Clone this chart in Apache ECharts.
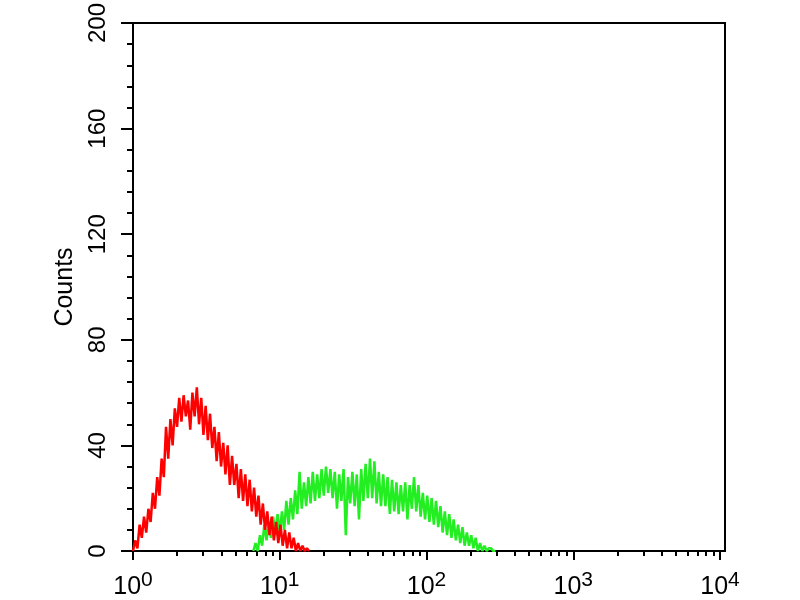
<!DOCTYPE html>
<html><head><meta charset="utf-8">
<script src="https://cdn.jsdelivr.net/npm/echarts@6/dist/echarts.min.js"></script>
<style>html,body{margin:0;padding:0;background:#fff}#c{width:800px;height:600px}</style>
</head><body><div id="c"></div>
<script>
// Y axis ticks (counts)
const yTickValues = [0, 40, 80, 120, 160, 200];
// X axis: decades (log10 of fluorescence intensity), labels 10^n
const xDecades = [0, 1, 2, 3, 4];
const xExponents = ['0', '1', '2', '3', '4'];
const minorMultipliers = [2, 3, 4, 5, 6, 7, 8, 9];

// Histogram channels: start decade and channel width (in decades)
const redStart = 0.0;
const greenStart = 0.82;
const channelStep = 0.015;

// Counts per channel
const redCounts = [0,4,1,10,5,13,7,16,11,22,16,28,21,35,28,47,35,50,40,54,47,58,49,59,51,57,46,60,51,62,48,58,44,55,42,52,39,47,34,45,32,41,29,40,25,36,25,33,20,31,19,29,17,27,15,24,13,21,10,18,8,15,6,13,4,11,3,10,2,8,1,7,1,5,0,3,0,2,0,1,0];
const greenCounts = [0,3,0,6,2,10,4,11,5,13,6,14,7,15,8,19,10,20,12,23,14,30,16,26,17,28,18,30,19,29,20,31,21,32,22,31,20,30,16,29,19,31,6,28,18,30,17,29,12,31,19,33,20,35,20,34,18,30,17,29,17,28,14,27,15,26,14,25,15,26,12,25,16,28,15,25,13,22,12,21,11,20,10,19,9,17,7,15,6,14,5,12,4,10,3,9,2,7,2,6,1,5,0,3,0,2,0,1,1,0,0];

function toPairs(start, counts) {
  return counts.map((c, i) => [start + i * channelStep, c]);
}

const minorTickValues = [];
for (let d = 0; d < 4; d++) {
  minorMultipliers.forEach(m => minorTickValues.push(d + Math.log10(m)));
}

const FONT = 'Liberation Sans, Arial, Helvetica, sans-serif';
const plotLeft = 133, plotRight = 725, plotTop = 21, plotBottom = 552;
const pxPerDecade = 146.75;
const xMax = (plotRight - plotLeft) / pxPerDecade;

const chart = echarts.init(document.getElementById('c'), null, {renderer: 'canvas'});
chart.setOption({
  backgroundColor: '#fff',
  animation: false,
  grid: {
    left: plotLeft, right: 800 - plotRight, top: plotTop, bottom: 600 - plotBottom,
    show: true, borderColor: '#000', borderWidth: 2, backgroundColor: 'transparent'
  },
  xAxis: [{
    type: 'value', min: 0, max: xMax,
    axisLine: {show: true, onZero: false, lineStyle: {color: '#000', width: 2}},
    axisTick: {show: true, inside: false, length: 9, customValues: xDecades, lineStyle: {color: '#000', width: 2}},
    splitLine: {show: false},
    axisLabel: {
      show: true, customValues: xDecades, margin: 19,
      formatter: v => {
        const i = xDecades.indexOf(Math.round(v));
        return '{b|10}{s|' + xExponents[i] + '}';
      },
      rich: {
        b: {fontSize: 25, fontFamily: FONT, color: '#000', verticalAlign: 'bottom'},
        s: {fontSize: 21, fontFamily: FONT, color: '#000', verticalAlign: 'bottom', padding: [0, 0, 9, 0]}
      }
    }
  }, {
    type: 'value', min: 0, max: xMax, position: 'bottom', offset: 0,
    axisLine: {show: false},
    axisTick: {show: true, inside: false, length: 5, customValues: minorTickValues, lineStyle: {color: '#000', width: 2}},
    axisLabel: {show: false},
    splitLine: {show: false}
  }],
  yAxis: {
    type: 'value', min: 0, max: 200, interval: 40,
    name: 'Counts', nameLocation: 'middle', nameGap: 51, nameRotate: 90,
    nameTextStyle: {fontSize: 25, fontFamily: FONT, color: '#000'},
    axisLine: {show: true, lineStyle: {color: '#000', width: 2}},
    axisTick: {show: true, inside: false, length: 12, lineStyle: {color: '#000', width: 2}},
    minorTick: {show: true, splitNumber: 5, length: 6, lineStyle: {color: '#000', width: 2}},
    splitLine: {show: false},
    axisLabel: {show: true, rotate: 90, margin: 23, fontSize: 24, fontFamily: FONT, color: '#000',
      customValues: yTickValues}
  },
  series: [{
    type: 'line', name: 'green', xAxisIndex: 0, data: toPairs(greenStart, greenCounts),
    showSymbol: false, smooth: false,
    lineStyle: {color: '#22ee22', width: 2.5}, itemStyle: {color: '#22ee22'}, z: 2
  }, {
    type: 'line', name: 'red', xAxisIndex: 0, data: toPairs(redStart, redCounts),
    showSymbol: false, smooth: false,
    lineStyle: {color: '#ff0000', width: 2.5}, itemStyle: {color: '#ff0000'}, z: 3
  }]
});
</script></body></html>
